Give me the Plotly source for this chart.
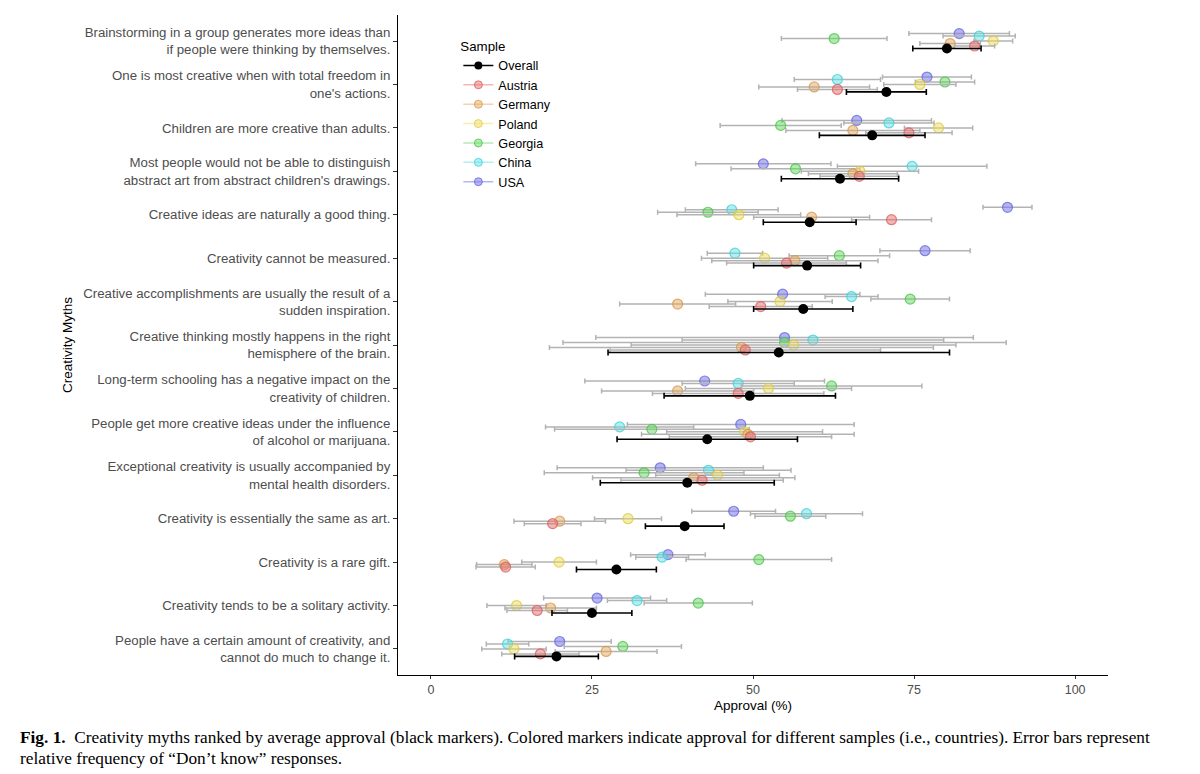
import plotly.graph_objects as go

myths = [
    "Brainstorming in a group generates more ideas than<br>if people were thinking by themselves.",
    "One is most creative when with total freedom in<br>one's actions.",
    "Children are more creative than adults.",
    "Most people would not be able to distinguish<br>abstract art from abstract children's drawings.",
    "Creative ideas are naturally a good thing.",
    "Creativity cannot be measured.",
    "Creative accomplishments are usually the result of a<br>sudden inspiration.",
    "Creative thinking mostly happens in the right<br>hemisphere of the brain.",
    "Long-term schooling has a negative impact on the<br>creativity of children.",
    "People get more creative ideas under the influence<br>of alcohol or marijuana.",
    "Exceptional creativity is usually accompanied by<br>mental health disorders.",
    "Creativity is essentially the same as art.",
    "Creativity is a rare gift.",
    "Creativity tends to be a solitary activity.",
    "People have a certain amount of creativity, and<br>cannot do much to change it.",
]

samples = ["Overall", "Austria", "Germany", "Poland", "Georgia", "China", "USA"]

overall = [80.1, 70.7, 68.5, 63.5, 58.8, 58.4, 57.8, 54.0, 49.5, 42.9, 39.8, 39.4, 28.8, 25.0, 19.5]
overall_err = [5.3, 6.2, 8.2, 9.1, 7.2, 8.3, 7.7, 26.5, 13.3, 14.0, 13.5, 6.1, 6.2, 6.2, 6.5]

austria = [84.4, 63.1, 74.2, 66.5, 71.5, 55.2, 51.2, 48.8, 47.7, 49.6, 42.1, 18.9, 11.6, 16.5, 17.0]
austria_err = [3.1, 6.2, 6.7, 6.1, 6.2, 9.3, 8.0, 21.0, 13.3, 12.6, 12.6, 4.4, 4.6, 4.7, 6.0]

germany = [80.6, 59.5, 65.5, 65.5, 59.1, 56.5, 38.3, 48.2, 38.3, 49.2, 40.8, 20.0, 11.4, 18.6, 27.2]
germany_err = [4.7, 8.6, 10.4, 6.9, 9.0, 12.9, 9.0, 29.8, 11.8, 16.5, 15.7, 7.1, 4.3, 7.1, 7.9]

poland = [87.3, 75.9, 78.8, 66.6, 47.8, 51.8, 54.2, 56.3, 52.4, 48.7, 44.5, 30.6, 19.9, 13.3, 12.9]
poland_err = [3.0, 5.6, 5.3, 9.1, 9.6, 9.8, 8.1, 25.2, 12.9, 12.1, 9.6, 5.2, 5.8, 4.6, 5.0]

georgia = [62.6, 79.8, 54.3, 56.6, 43.0, 63.4, 74.4, 54.9, 62.2, 34.3, 33.1, 55.8, 50.9, 41.5, 29.8]
georgia_err = [8.2, 4.6, 9.4, 10.0, 7.8, 7.8, 6.1, 34.4, 14.0, 15.1, 15.5, 5.5, 11.3, 8.4, 9.1]

china = [85.1, 63.1, 71.1, 74.7, 46.7, 47.2, 65.3, 59.3, 47.7, 29.3, 43.1, 58.3, 35.9, 32.0, 11.9]
china_err = [5.6, 6.7, 7.0, 11.6, 7.2, 4.3, 4.1, 20.3, 8.7, 11.5, 12.8, 8.7, 4.1, 4.6, 3.3]

usa = [82.0, 77.0, 66.1, 51.6, 89.5, 76.7, 54.6, 54.9, 42.5, 48.1, 35.6, 47.0, 36.8, 25.8, 20.0]
usa_err = [7.8, 6.9, 11.6, 10.5, 3.8, 7.0, 12.0, 29.3, 18.6, 17.6, 16.0, 6.5, 5.8, 8.3, 8.0]

values = {"Overall": overall, "Austria": austria, "Germany": germany, "Poland": poland,
          "Georgia": georgia, "China": china, "USA": usa}
errors = {"Overall": overall_err, "Austria": austria_err, "Germany": germany_err, "Poland": poland_err,
          "Georgia": georgia_err, "China": china_err, "USA": usa_err}

fill = {
    "Austria": "rgba(232,110,110,0.50)",
    "Germany": "rgba(228,168,95,0.50)",
    "Poland": "rgba(238,222,95,0.50)",
    "Georgia": "rgba(100,215,95,0.50)",
    "China": "rgba(95,225,232,0.50)",
    "USA": "rgba(120,120,235,0.55)",
}
edge = {
    "Austria": "rgba(220,90,90,0.75)",
    "Germany": "rgba(215,150,70,0.75)",
    "Poland": "rgba(220,200,60,0.75)",
    "Georgia": "rgba(70,195,70,0.75)",
    "China": "rgba(60,205,215,0.75)",
    "USA": "rgba(100,100,220,0.75)",
}

n = len(myths)
centers = [n - i for i in range(n)]
dodge_width = 0.4
step = dodge_width / len(samples)
# dodge order bottom to top: Overall, Austria, Germany, Poland, Georgia, China, USA
offsets = {s: (k - 3) * step for k, s in enumerate(samples)}

fig = go.Figure()

draw_order = ["USA", "China", "Georgia", "Poland", "Germany", "Austria"]
for s in draw_order:
    fig.add_trace(go.Scatter(
        x=values[s], y=[c + offsets[s] for c in centers], mode="markers",
        marker=dict(size=10, color=fill[s], line=dict(color=edge[s], width=1.2)),
        error_x=dict(type="data", array=errors[s], symmetric=True, color="#b3b3b3",
                     thickness=1.5, width=2.5),
        showlegend=False, hoverinfo="x"))

fig.add_trace(go.Scatter(
    x=overall, y=[c + offsets["Overall"] for c in centers], mode="markers",
    marker=dict(size=10, color="black"),
    error_x=dict(type="data", array=overall_err, symmetric=True, color="black",
                 thickness=1.6, width=3),
    showlegend=False, hoverinfo="x"))

# legend entries
for s in samples:
    if s == "Overall":
        fig.add_trace(go.Scatter(x=[None], y=[None], mode="lines+markers", name=s,
                                 marker=dict(size=8, color="black"),
                                 line=dict(color="black", width=1.5)))
    else:
        fig.add_trace(go.Scatter(x=[None], y=[None], mode="lines+markers", name=s,
                                 marker=dict(size=8, color=fill[s], line=dict(color=edge[s], width=1)),
                                 line=dict(color=fill[s], width=1.5)))

# page body has an 8px margin; compensate so plot area sits at x 398-1108, y 15-675
fig.update_layout(
    width=1200, height=774,
    margin=dict(l=390, r=100, t=7, b=107),
    paper_bgcolor="white", plot_bgcolor="white",
    font=dict(family="Liberation Sans, Arial, sans-serif", size=13, color="#4d4d4d"),
    legend=dict(x=0.085, y=0.972, xanchor="left", yanchor="top",
                title=dict(text="Sample", font=dict(size=13.3, color="black")),
                font=dict(size=12.6, color="black"), bgcolor="rgba(0,0,0,0)",
                tracegroupgap=0, itemwidth=30),
)
fig.update_xaxes(range=[-5.1, 105.1], tickvals=[0, 25, 50, 75, 100],
                 showline=True, linecolor="black", linewidth=1, ticks="outside",
                 ticklen=3, tickcolor="#333333", showgrid=False, zeroline=False,
                 tickfont=dict(size=12.5, color="#4d4d4d"))
fig.update_yaxes(range=[0.4, 15.6], tickvals=centers, ticktext=myths,
                 showline=True, linecolor="black", linewidth=1, ticks="outside",
                 ticklen=4, tickcolor="#333333", showgrid=False, zeroline=False,
                 tickfont=dict(size=13.25, color="#4d4d4d"))

fig.add_annotation(text="Approval (%)", xref="paper", yref="paper", x=0.5, y=-(705 - 675) / 660,
                   showarrow=False, yanchor="middle", font=dict(size=13.5, color="black"))
fig.add_annotation(text="Creativity Myths", xref="paper", yref="paper", x=-(398 - 67) / 710, y=0.5,
                   showarrow=False, textangle=-90, xanchor="center", yanchor="middle",
                   font=dict(size=13.5, color="black"))

cap_font = dict(family="Liberation Serif, DejaVu Serif, serif", size=17.3, color="black")
fig.add_annotation(text="<b>Fig. 1.</b>  Creativity myths ranked by average approval (black markers). Colored markers indicate approval for different samples (i.e., countries). Error bars represent",
                   xref="paper", yref="paper", x=-(398 - 18) / 710, y=-(737 - 675) / 660,
                   xanchor="left", yanchor="middle", showarrow=False, font=cap_font)
fig.add_annotation(text="relative frequency of \u201cDon\u2019t know\u201d responses.",
                   xref="paper", yref="paper", x=-(398 - 18) / 710, y=-(758 - 675) / 660,
                   xanchor="left", yanchor="middle", showarrow=False, font=cap_font)

fig.write_html("out.html")
